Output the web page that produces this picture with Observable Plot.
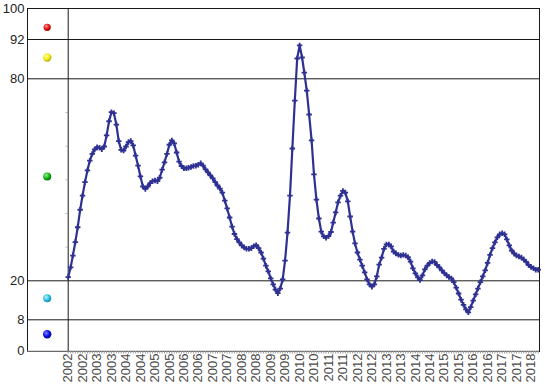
<!DOCTYPE html>
<html>
<head>
<meta charset="utf-8">
<script src="https://cdn.jsdelivr.net/npm/d3@7"></script>
<script src="https://cdn.jsdelivr.net/npm/@observablehq/plot@0.6"></script>
<style>
  html, body { margin: 0; padding: 0; background: #fff; }
  svg { display: block; }
</style>
</head>
<body>
<div id="chart"></div>
<script>
// ---- data ----
const startYear = 2002;
// monthly index values, Jan 2002 .. Apr 2018
const values = [
  21.1, 24.0, 27.5, 31.5, 35.9, 41.1, 45.3, 49.3, 52.8, 55.7, 57.7, 59.0,
  59.7, 59.5, 59.1, 59.9, 63.2, 67.4, 70.1, 69.8, 66.4, 61.5, 58.9, 58.7,
  59.9, 61.2, 61.5, 60.2, 57.2, 54.2, 51.0, 48.0, 47.3, 48.0, 49.0, 49.6,
  49.8, 49.6, 50.6, 53.0, 55.2, 57.7, 60.4, 61.7, 60.8, 58.1, 55.4, 54.1,
  53.4, 53.4, 53.6, 53.8, 54.1, 54.2, 54.5, 54.9, 54.2, 53.1, 52.2, 51.3,
  50.4, 49.3, 48.3, 47.4, 46.2, 43.8, 41.5, 38.8, 36.1, 33.9, 32.4, 31.4,
  30.5, 29.9, 29.5, 29.5, 29.7, 30.3, 30.6, 29.7, 28.4, 26.6, 24.5, 22.8,
  20.7, 18.9, 17.3, 16.2, 17.6, 20.4, 26.0, 34.3, 45.3, 59.3, 73.5, 86.2,
  90.2, 86.5, 81.9, 76.5, 69.4, 61.7, 51.6, 44.1, 38.5, 34.6, 33.2, 32.8,
  33.3, 34.5, 37.3, 40.3, 43.3, 45.3, 46.7, 46.2, 43.6, 39.1, 34.6, 31.1,
  28.4, 26.3, 24.5, 22.5, 20.4, 18.9, 18.2, 18.9, 21.3, 24.8, 26.9, 29.5,
  30.8, 30.8, 30.2, 28.7, 28.1, 27.7, 27.5, 27.7, 27.5, 27.0, 25.7, 23.7,
  22.2, 21.0, 20.2, 21.6, 23.4, 24.5, 25.3, 25.7, 25.6, 24.7, 24.0, 23.1,
  22.3, 21.6, 21.1, 20.7, 19.6, 17.9, 16.1, 14.2, 12.6, 11.2, 10.3, 11.9,
  13.9, 15.8, 17.6, 19.6, 21.3, 23.1, 25.3, 27.7, 29.7, 31.4, 32.9, 33.8,
  34.1, 33.8, 32.3, 30.5, 29.0, 28.1, 27.5, 27.2, 26.9, 26.3, 25.6, 24.7,
  24.1, 23.7, 23.3, 23.3
];
const yTickValues = [0, 8, 20, 80, 92, 100];      // band boundaries / y tick labels
const bandLines = [8, 20, 80, 92];
const minorYTicks = [30, 40, 50, 60, 70];
const bandMarkers = [95.2, 86.5, 51, 14.6, 4.3];  // indicator lamp levels: red, yellow, green, cyan, blue
const bandNames = ["red", "yellow", "green", "cyan", "blue"];

// ---- derived ----
const data = values.map((v, i) => ({date: new Date(Date.UTC(startYear, i, 1)), value: v}));
const start = data[0].date;
const end = data[data.length - 1].date;
const halfYearTicks = d3.utcMonth.every(6).range(start, d3.utcDay.offset(end, 1));
const monthTicks = d3.utcMonth.range(start, d3.utcDay.offset(end, 1));

const gradientStops = {
  red:    ["#ff9a9a", "#e41010", "#9a0000"],
  yellow: ["#ffffb0", "#eeee10", "#a8a000"],
  green:  ["#9af09a", "#10b410", "#006a00"],
  cyan:   ["#c0f4ff", "#2cc0e4", "#107ea0"],
  blue:   ["#8080ff", "#0a10e8", "#00008a"]
};
const bandRadius = {red: 3.6, yellow: 4.2, green: 4, cyan: 4, blue: 4.2};

const font = "'Liberation Sans', Arial, Helvetica, sans-serif";

const chart = Plot.plot({
  width: 545,
  height: 391,
  marginLeft: 27,
  marginRight: 6,
  marginTop: 8,
  marginBottom: 40,
  style: {fontFamily: font, background: "#fff", overflow: "visible"},
  x: {type: "utc", domain: [start, end], range: [67.7, 537.7]},
  y: {type: "linear", domain: yTickValues, range: [350.7, 319.3, 280.3, 78.3, 39, 8.5]},
  marks: [
    Plot.ruleY(bandLines, {stroke: "#1a1a1a", strokeWidth: 1}),
    Plot.frame({stroke: "#1a1a1a"}),
    Plot.ruleY([0], {stroke: "#8c8c8c"}),
    Plot.ruleY(minorYTicks, {
      x1: () => d3.utcMonth.offset(start, -1),
      x2: () => start,
      stroke: "#c8c8c8"
    }),
    Plot.ruleX([start], {stroke: "#1a1a1a"}),
    Plot.axisX(monthTicks, {
      tickSize: 2.5, tickFormat: () => "", stroke: "#9a9a9a", label: null
    }),
    Plot.axisX(halfYearTicks, {
      tickSize: 0, tickPadding: 2, tickRotate: -90,
      tickFormat: d3.utcFormat("%Y"), fill: "#4a4a4a", fontSize: 13, label: null
    }),
    Plot.axisY(yTickValues, {
      tickSize: 0, tickPadding: 3, fill: "#222", fontSize: 13, label: null
    }),
    Plot.line(data, {x: "date", y: "value", stroke: "#2e3192", strokeWidth: 2.2}),
    Plot.dot(data, {x: "date", y: "value", symbol: "cross", r: 2.3, fill: "#2e3192"}),
    ...bandMarkers.map((m, i) => Plot.dot([m], {
      x: () => start, y: d => d, dx: -21,
      r: bandRadius[bandNames[i]],
      fill: `url(#grad-${bandNames[i]})`
    }))
  ]
});

// gradient defs for the glossy band indicator dots
const svgNS = "http://www.w3.org/2000/svg";
const defs = document.createElementNS(svgNS, "defs");
for (const name of bandNames) {
  const g = document.createElementNS(svgNS, "radialGradient");
  g.setAttribute("id", `grad-${name}`);
  g.setAttribute("cx", "38%"); g.setAttribute("cy", "35%"); g.setAttribute("r", "70%");
  const offsets = ["0%", "55%", "100%"];
  gradientStops[name].forEach((c, k) => {
    const s = document.createElementNS(svgNS, "stop");
    s.setAttribute("offset", offsets[k]);
    s.setAttribute("stop-color", c);
    g.appendChild(s);
  });
  defs.appendChild(g);
}
chart.insertBefore(defs, chart.firstChild);

document.getElementById("chart").appendChild(chart);
</script>
</body>
</html>
